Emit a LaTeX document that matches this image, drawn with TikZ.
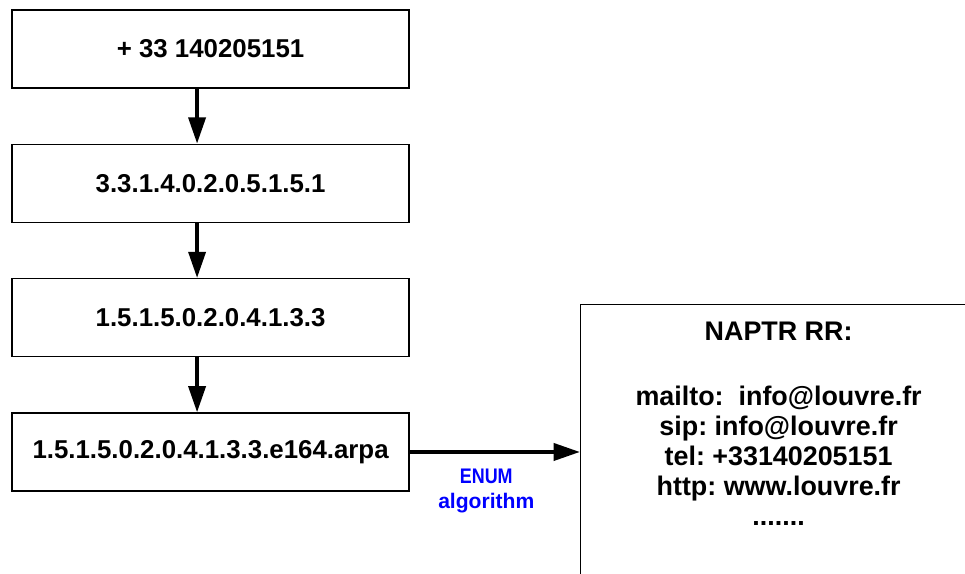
\documentclass[tikz,border=0pt]{standalone}
\usepackage{fontspec}
\setmainfont{Liberation Sans}
\frenchspacing
\usetikzlibrary{arrows.meta,positioning}
\tikzset{
numbox/.style={draw, line width=1.4pt, minimum width=13.23cm, minimum height=2.6cm, font=\fontsize{24.5}{28}\selectfont\bfseries},
flowarrow/.style={line width=3.2pt, -{Triangle[length=0.87cm,width=0.57cm]}},
}
\begin{document}
\begin{tikzpicture}[node distance=1.83cm]
\useasboundingbox (0,0) rectangle (32.17,19.13);
\clip (0,0) rectangle (32.17,19.13);

\node[numbox] (num) at (7.02,17.5) {+ 33 140205151};
\node[numbox, below=of num] (digits) {3.3.1.4.0.2.0.5.1.5.1};
\node[numbox, below=of digits] (rev) {1.5.1.5.0.2.0.4.1.3.3};
\node[numbox, below=of rev] (dom) {1.5.1.5.0.2.0.4.1.3.3.e164.arpa};
\coordinate (axis) at (6.57,0);

\node[draw, line width=1.5pt, anchor=north west, minimum width=13.2cm, minimum height=11cm] (naptr) at (19.33,9.0) {};
\node[below=0.6cm of naptr.north, inner sep=0, align=center, font=\fontsize{25.5}{28.45}\selectfont\bfseries] (rr) {NAPTR RR:\\[1.15cm]
mailto:\ \ info@louvre.fr\\ sip: info@louvre.fr\\ tel: +33140205151\\ http: www.louvre.fr\\ .......};

\draw[flowarrow] (num.south -| axis) -- (digits.north -| axis);
\draw[flowarrow] (digits.south -| axis) -- (rev.north -| axis);
\draw[flowarrow] (rev.south -| axis) -- (dom.north -| axis);
\draw[flowarrow] (dom.east) -- (dom.east -| naptr.west) node[pos=0.45, below=0.5cm, inner sep=0, align=center, text=blue, font=\fontsize{20}{23.7}\selectfont\bfseries] (enum) {\scalebox{0.85}[1]{ENUM}\\ algorithm};
\end{tikzpicture}
\end{document}
